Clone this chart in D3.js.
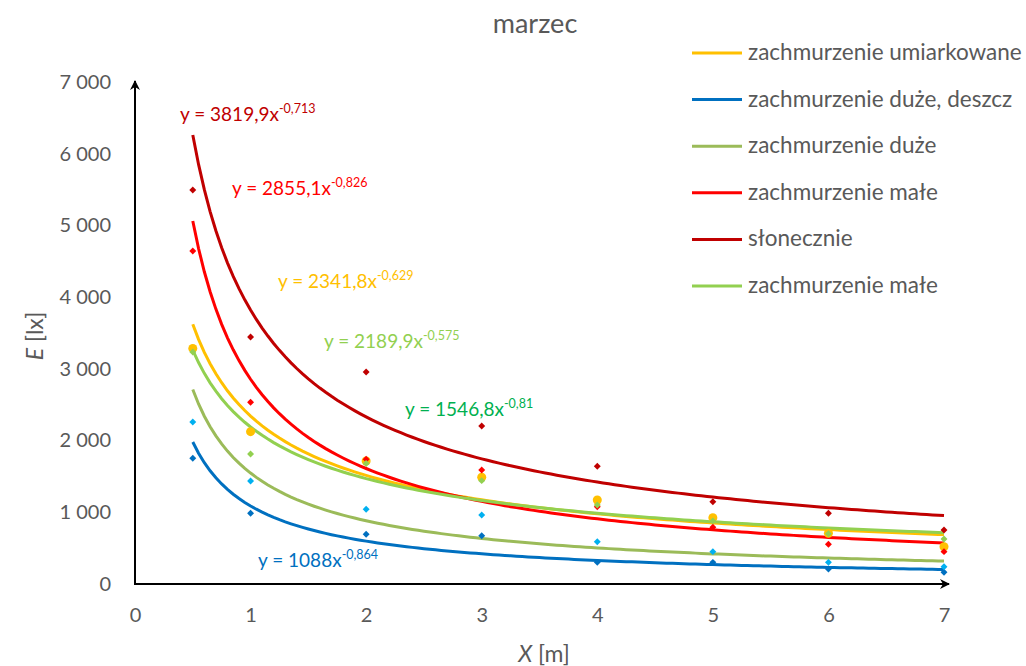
<!DOCTYPE html>
<html><head><meta charset="utf-8">
<script src="https://cdn.jsdelivr.net/npm/d3@7"></script>
<style>
body{margin:0;background:#fff;}
svg{display:block;font-family:Lato, "Open Sans", sans-serif;}
</style></head>
<body><svg id="c" width="1026" height="666"></svg>
<script>
const xValues = [0.5, 1, 2, 3, 4, 5, 6, 7];
const xTicks = [0, 1, 2, 3, 4, 5, 6, 7];
const yTicks = [0, 1000, 2000, 3000, 4000, 5000, 6000, 7000];

const seriesNames = ["zachmurzenie umiarkowane", "zachmurzenie duże, deszcz", "zachmurzenie duże", "zachmurzenie małe", "słonecznie", "zachmurzenie małe"];
const umiarkowane = [3285, 2124, 1715, 1488, 1172, 925, 707, 520];
const duzeDeszcz = [1753, 986, 693, 674, 302, 302, 209, 163];
const duze = [2259, 1436, 1042, 962, 590, 451, 302, 241];
const male = [4644, 2534, 1739, 1590, 1078, 791, 554, 451];
const slonecznie = [5495, 3445, 2957, 2204, 1641, 1148, 986, 753];
const male2 = [3236, 1813, 1680, 1441, 1102, 880, 700, 628];

// trendline (power fit) coefficients shown on the chart
const trendA = [2341.8, 1088, 1546.8, 2855.1, 3819.9, 2189.9];
const trendB = [-0.629, -0.864, -0.81, -0.826, -0.713, -0.575];
const trendLabelA = ["2341,8", "1088", "1546,8", "2855,1", "3819,9", "2189,9"];
const trendLabelB = ["-0,629", "-0,864", "-0,81", "-0,826", "-0,713", "-0,575"];

const lineColors = ["#FFC000", "#0070C0", "#9BBB59", "#FF0000", "#C00000", "#92D050"];
const pointColors = ["#FFC000", "#0070C0", "#00B0F0", "#FF0000", "#C00000", "#92D050"];
const eqColors = ["#FFC000", "#0070C0", "#00B050", "#FF0000", "#C00000", "#92D050"];
const eqPos = [[278, 288], [258, 567], [405, 416], [232, 195], [180, 121], [324, 348]];
const allValues = [umiarkowane, duzeDeszcz, duze, male, slonecznie, male2];

const svg = d3.select("#c");
const x = d3.scaleLinear().domain([0, 7]).range([135, 944]);
const y = d3.scaleLinear().domain([0, 7000]).range([584, 82]);
const grey = "#595959";

// title
svg.append("text").attr("x", 535).attr("y", 33).attr("text-anchor", "middle")
  .attr("font-size", 27).attr("fill", grey).text("marzec");

// arrow marker
const defs = svg.append("defs");
defs.append("marker").attr("id", "arr").attr("viewBox", "0 0 10 10").attr("refX", 9).attr("refY", 5)
  .attr("markerWidth", 10).attr("markerHeight", 10).attr("markerUnits", "userSpaceOnUse").attr("orient", "auto")
  .append("path").attr("d", "M0,0 L10,5 L0,10 L3,5 Z").attr("fill", "#000");

// tick labels via axes
const xAxis = svg.append("g").attr("transform", `translate(0,${y(0)})`)
  .call(d3.axisBottom(x).tickValues(xTicks).tickSize(0).tickPadding(24).tickFormat(d3.format("d")));
const fmt = d => d3.format(",")(d).replace(/,/g, " ");
const yAxis = svg.append("g").attr("transform", `translate(${x(0)},0)`)
  .call(d3.axisLeft(y).tickValues(yTicks).tickSize(0).tickPadding(24).tickFormat(fmt));
[xAxis, yAxis].forEach(g => {
  g.select(".domain").remove();
  g.selectAll("text").attr("font-size", 20).attr("fill", grey).attr("font-family", "Lato, 'Open Sans', sans-serif");
});

// axis lines with arrows
svg.append("line").attr("x1", x(0)).attr("y1", y(0)).attr("x2", x(7) + 5).attr("y2", y(0))
  .attr("stroke", "#000").attr("stroke-width", 2).attr("marker-end", "url(#arr)");
svg.append("line").attr("x1", x(0)).attr("y1", y(0) + 1).attr("x2", x(0)).attr("y2", y(7000) - 1)
  .attr("stroke", "#000").attr("stroke-width", 2).attr("marker-end", "url(#arr)");

// axis titles
const xt = svg.append("text").attr("x", 544).attr("y", 662).attr("text-anchor", "middle")
  .attr("font-size", 23).attr("fill", grey);
xt.append("tspan").attr("font-style", "italic").text("X");
xt.append("tspan").text(" [m]");
const yt = svg.append("text").attr("transform", "translate(43,336) rotate(-90)").attr("text-anchor", "middle")
  .attr("font-size", 23).attr("fill", grey);
yt.append("tspan").attr("font-style", "italic").text("E");
yt.append("tspan").text(" [lx]");

// trendlines
const samples = d3.range(0.5, 7.0001, 0.05);
const line = d3.line().x(d => x(d[0])).y(d => y(d[1])).curve(d3.curveLinear);
trendA.forEach((a, i) => {
  svg.append("path").datum(samples.map(t => [t, a * Math.pow(t, trendB[i])]))
    .attr("d", line).attr("fill", "none").attr("stroke", lineColors[i]).attr("stroke-width", 3);
});

// points
allValues.forEach((vals, i) => {
  const g = svg.append("g");
  vals.forEach((v, j) => {
    if (i === 0) {
      g.append("circle").attr("cx", x(xValues[j])).attr("cy", y(v)).attr("r", 4.5).attr("fill", pointColors[i]);
    } else {
      g.append("path").attr("d", d3.symbol().type(d3.symbolSquare).size(24)())
        .attr("transform", `translate(${x(xValues[j])},${y(v)}) rotate(45)`).attr("fill", pointColors[i]);
    }
  });
});

// equations
trendA.forEach((a, i) => {
  const t = svg.append("text").attr("x", eqPos[i][0]).attr("y", eqPos[i][1]).attr("font-size", 19).attr("fill", eqColors[i]);
  t.append("tspan").text(`y = ${trendLabelA[i]}x`);
  t.append("tspan").attr("dy", -8).attr("font-size", 12.5).text(trendLabelB[i]);
});

// legend
seriesNames.forEach((n, i) => {
  const ly = 53 + i * 46.6;
  svg.append("line").attr("x1", 692).attr("x2", 742).attr("y1", ly).attr("y2", ly)
    .attr("stroke", lineColors[i]).attr("stroke-width", 3);
  svg.append("text").attr("x", 748).attr("y", ly + 7).attr("font-size", 22.5).attr("fill", grey).text(n);
});
</script></body></html>
